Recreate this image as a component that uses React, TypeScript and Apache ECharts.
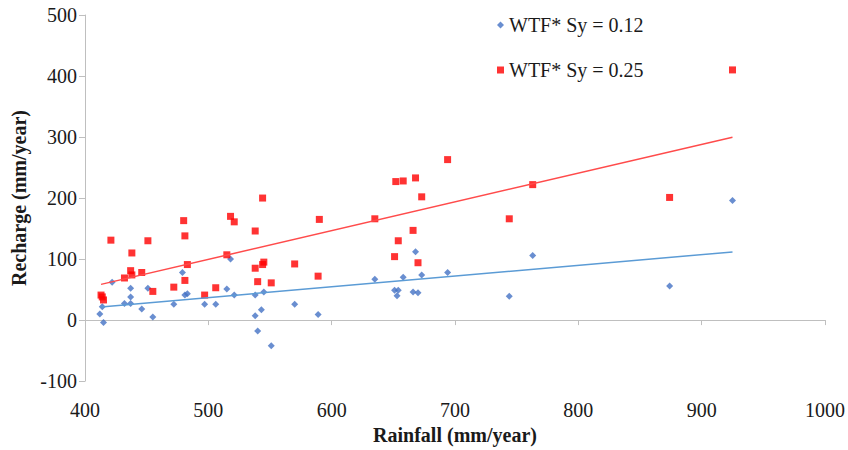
import React, { useEffect, useRef } from "react";
import * as echarts from "echarts";

const seriesNames = ["WTF* Sy = 0.12", "WTF* Sy = 0.25"];

const rainfallSy012 = [412, 414, 415, 422, 432, 437, 437, 437, 446, 451, 455, 472, 479, 481, 483, 497, 506, 515, 518, 521, 538, 545, 538, 543, 540, 551, 570, 589, 635, 651, 654, 653, 658, 666, 670, 668, 673, 694, 744, 763, 874, 925];
const rechargeSy012 = [10, 22, -4, 62, 27, 27, 38, 52, 18, 52, 5, 26, 78, 41, 43, 26, 26, 51, 100, 41, 41, 46, 7, 17, -18, -42, 26, 9, 67, 49, 49, 40, 70, 46, 45, 112, 74, 78, 39, 106, 56, 196];

const rainfallSy025 = [413, 414, 415, 421, 432, 437, 438, 438, 446, 451, 455, 472, 480, 481, 483, 481, 497, 506, 515, 518, 521, 538, 544, 538, 544, 545, 540, 551, 570, 589, 590, 635, 651, 652, 654, 658, 666, 668, 670, 673, 694, 744, 763, 874, 925];
const rechargeSy025 = [41, 38, 33, 131, 69, 81, 110, 74, 78, 130, 47, 54, 163, 138, 91, 65, 41, 53, 107, 170, 161, 146, 200, 85, 91, 95, 63, 61, 92, 72, 165, 166, 104, 227, 130, 228, 147, 233, 94, 202, 263, 166, 222, 201, 410];

const trendRainfall = [413, 925];
const trendSy012 = [21.6, 111.7];
const trendSy025 = [58.5, 299.7];

const xTicks = { min: 400, max: 1000, interval: 100 };
const yTicks = { min: -100, max: 500, interval: 100 };

const FONT = "Liberation Serif";

export default function App() {
  const ref = useRef<HTMLDivElement>(null);

  useEffect(() => {
    if (!ref.current) return;
    const chart = echarts.init(ref.current, null, { renderer: "svg" });
    const pair = (xs: number[], ys: number[]) => xs.map((x, i) => [x, ys[i]]);
    chart.setOption({
      animation: false,
      backgroundColor: "#ffffff",
      textStyle: { fontFamily: FONT },
      grid: { left: 85, right: 22, top: 15, bottom: 66, containLabel: false },
      legend: {
        data: seriesNames,
        orient: "vertical",
        left: 492,
        top: 10,
        itemWidth: 7,
        itemHeight: 7,
        itemGap: 25,
        textStyle: { fontFamily: FONT, fontSize: 20, color: "#1a1a1a" },
      },
      xAxis: {
        type: "value",
        min: xTicks.min,
        max: xTicks.max,
        interval: xTicks.interval,
        name: "Rainfall (mm/year)",
        nameLocation: "middle",
        nameGap: 43,
        nameTextStyle: { fontFamily: FONT, fontSize: 20, fontWeight: "bold", color: "#1a1a1a" },
        axisLine: { show: true, lineStyle: { color: "#bfbfbf", width: 1 } },
        axisTick: { show: true, length: 5, lineStyle: { color: "#bfbfbf" } },
        axisLabel: { fontFamily: FONT, fontSize: 20, color: "#1a1a1a", margin: 19, formatter: (v: number) => String(v) },
        splitLine: { show: false },
      },
      yAxis: {
        type: "value",
        min: yTicks.min,
        max: yTicks.max,
        interval: yTicks.interval,
        name: "Recharge (mm/year)",
        nameLocation: "middle",
        nameGap: 55,
        nameTextStyle: { fontFamily: FONT, fontSize: 20, fontWeight: "bold", color: "#1a1a1a" },
        axisLine: { show: true, lineStyle: { color: "#bfbfbf", width: 1 } },
        axisTick: { show: true, length: 6, lineStyle: { color: "#bfbfbf" } },
        axisLabel: { fontFamily: FONT, fontSize: 20, color: "#1a1a1a", margin: 8, formatter: (v: number) => String(v) },
        splitLine: { show: false },
      },
      series: [
        {
          name: seriesNames[0],
          type: "scatter",
          symbol: "diamond",
          symbolSize: 7,
          itemStyle: { color: "#4472C4" },
          data: pair(rainfallSy012, rechargeSy012),
          z: 3,
        },
        {
          name: seriesNames[1],
          type: "scatter",
          symbol: "rect",
          symbolSize: 7,
          itemStyle: { color: "#FF0000" },
          data: pair(rainfallSy025, rechargeSy025),
          z: 3,
        },
        {
          name: "trend012",
          type: "line",
          showSymbol: false,
          symbol: "none",
          lineStyle: { color: "#5B9BD5", width: 1.5 },
          data: pair(trendRainfall, trendSy012),
          z: 4,
          silent: true,
        },
        {
          name: "trend025",
          type: "line",
          showSymbol: false,
          symbol: "none",
          lineStyle: { color: "#FF4B4B", width: 1.5 },
          data: pair(trendRainfall, trendSy025),
          z: 4,
          silent: true,
        },
      ],
    });
    return () => chart.dispose();
  }, []);

  return (
    <div
      ref={ref}
      style={{ position: "absolute", left: 0, top: 0, width: 848, height: 450 }}
    />
  );
}
